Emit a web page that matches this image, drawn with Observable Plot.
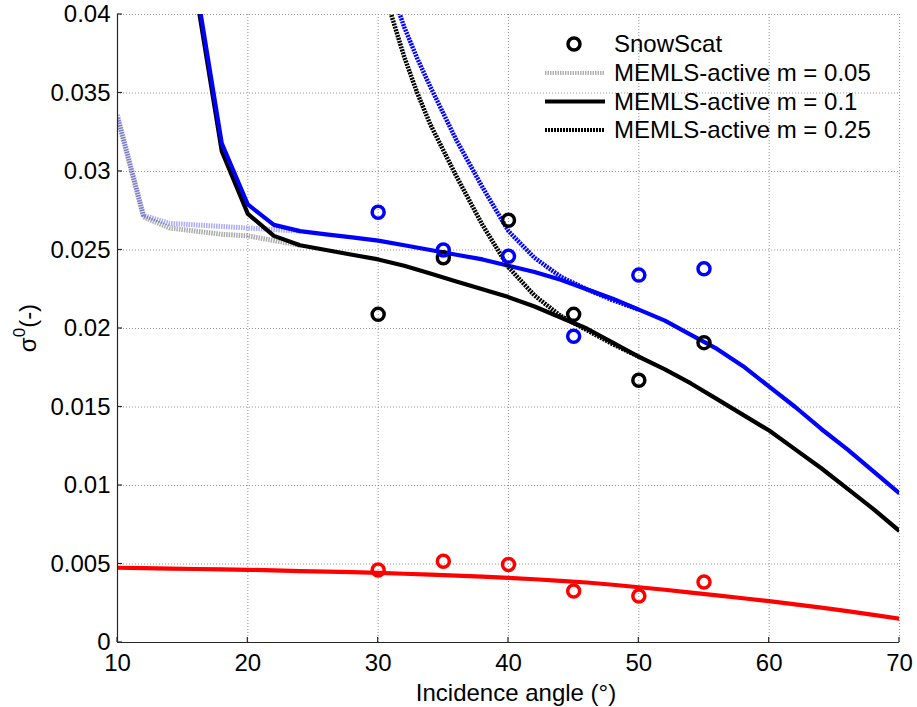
<!DOCTYPE html>
<html><head><meta charset="utf-8">
<script src="https://cdn.jsdelivr.net/npm/d3@7"></script>
<script src="https://cdn.jsdelivr.net/npm/@observablehq/plot@0.6"></script>
<style>body{margin:0;background:#fff}</style>
</head><body><div id="chart"></div>
<script>
// ---------- data ----------
const xTicks = [10, 20, 30, 40, 50, 60, 70];
const xTickLabels = ["10", "20", "30", "40", "50", "60", "70"];
const yTicks = [0, 0.005, 0.01, 0.015, 0.02, 0.025, 0.03, 0.035, 0.04];
const yTickLabels = ["0", "0.005", "0.01", "0.015", "0.02", "0.025", "0.03", "0.035", "0.04"];

// SnowScat observations
const obsAngles = [30, 35, 40, 45, 50, 55];
const obsBlack = [0.0209, 0.0245, 0.0269, 0.0209, 0.0167, 0.0191];
const obsBlue  = [0.0274, 0.0250, 0.0246, 0.0195, 0.0234, 0.0238];
const obsRed   = [0.00462, 0.00517, 0.00497, 0.00328, 0.00296, 0.00385];

// MEMLS-active m = 0.1 (solid)
const anglesM01 = [16, 18, 20, 22, 24, 26, 28, 30, 32, 34, 36, 38, 40, 42, 44, 46, 48, 50, 52, 54, 56, 58, 60, 62, 64, 66, 68, 70];
const blueM01  = [0.0420, 0.0318, 0.0279, 0.0266, 0.0262, 0.0260, 0.0258, 0.0256, 0.0253, 0.0250, 0.0247, 0.0244, 0.0240, 0.0236, 0.0231, 0.0225, 0.0219, 0.0212, 0.0205, 0.0196, 0.0187, 0.0176, 0.0163, 0.0150, 0.0136, 0.0123, 0.0109, 0.0095];
const blackM01 = [0.0415, 0.0313, 0.0273, 0.0259, 0.0253, 0.0250, 0.0247, 0.0244, 0.0240, 0.0235, 0.0230, 0.0225, 0.0220, 0.0214, 0.0207, 0.0200, 0.0191, 0.0182, 0.0174, 0.0165, 0.0155, 0.0145, 0.0135, 0.0123, 0.0111, 0.0098, 0.0085, 0.0071];

// MEMLS-active m = 0.05 (light)
const anglesM005 = [10, 12, 14, 16, 18, 20, 22, 24];
const blueM005  = [0.0336, 0.0272, 0.0267, 0.0266, 0.0265, 0.0264, 0.0263, 0.0262];
const blackM005 = [0.0334, 0.0271, 0.0264, 0.0262, 0.0260, 0.0259, 0.0256, 0.0253];

// MEMLS-active m = 0.25 (dotted)
const anglesM025 = [30, 31, 32, 33, 34, 36, 38, 40, 42, 44, 46, 48, 50];
const blueM025  = [0.0445, 0.0416, 0.0392, 0.0372, 0.0354, 0.0320, 0.0290, 0.0262, 0.0245, 0.0233, 0.0225, 0.0218, 0.0212];
const blackM025 = [0.0435, 0.0400, 0.0373, 0.0350, 0.0330, 0.0297, 0.0266, 0.0239, 0.0221, 0.0208, 0.0199, 0.0190, 0.0182];

// Red (cross-pol) m = 0.1
const anglesRed = [10, 12, 14, 16, 18, 20, 22, 24, 26, 28, 30, 32, 34, 36, 38, 40, 42, 44, 46, 48, 50, 52, 54, 56, 58, 60, 62, 64, 66, 68, 70];
const redM01 = [0.00476, 0.00474, 0.00471, 0.00468, 0.00466, 0.00463, 0.00459, 0.00455, 0.00451, 0.00448, 0.00444, 0.00438, 0.00432, 0.00426, 0.00419, 0.00412, 0.00403, 0.00393, 0.00382, 0.00368, 0.00352, 0.00336, 0.00318, 0.00300, 0.00282, 0.00263, 0.00243, 0.00222, 0.00200, 0.00176, 0.00151];

const legendLabels = ["SnowScat", "MEMLS-active m = 0.05", "MEMLS-active m = 0.1", "MEMLS-active m = 0.25"];
const xLabel = "Incidence angle (°)";

// ---------- build ----------
const W = 917, H = 707, ML = 117, MR = 18, MT = 14, MB = 65;
const FONT = "'Liberation Sans', Arial, Helvetica, sans-serif";
const pts = (xs, ys) => xs.map((x, i) => ({x, y: ys[i]}));
const fmtX = d => xTickLabels[xTicks.indexOf(d)];
const fmtY = d => yTickLabels[yTicks.indexOf(d)];

const light = {strokeWidth: 5, strokeOpacity: 0.33, strokeDasharray: "1.5,1", strokeLinecap: "butt", strokeLinejoin: "round", clip: true};
const solid = {strokeWidth: 4.2, strokeLinecap: "butt", strokeLinejoin: "round", clip: true};
const dotted = {strokeWidth: 4.5, strokeDasharray: "2,1", strokeLinecap: "butt", strokeLinejoin: "round", clip: true};
const dotOpt = {r: 6, strokeWidth: 3.5, fill: "none"};

const chart = Plot.plot({
  width: W, height: H,
  marginLeft: ML, marginRight: MR, marginTop: MT, marginBottom: MB,
  x: {domain: [xTicks[0], xTicks[xTicks.length - 1]]},
  y: {domain: [yTicks[0], yTicks[yTicks.length - 1]]},
  style: {fontFamily: FONT, fontSize: "24px", background: "#fff", color: "#000"},
  marks: [
    Plot.gridX(xTicks, {stroke: "#8c8c8c", strokeOpacity: 0.9, strokeDasharray: "1,2"}),
    Plot.gridY(yTicks, {stroke: "#8c8c8c", strokeOpacity: 0.9, strokeDasharray: "1,2"}),
    Plot.line(pts(anglesM005, blackM005), {x: "x", y: "y", stroke: "#000", ...light}),
    Plot.line(pts(anglesM005, blueM005), {x: "x", y: "y", stroke: "#0000ff", ...light}),
    Plot.line(pts(anglesRed, redM01), {x: "x", y: "y", stroke: "#ff0000", ...solid}),
    Plot.line(pts(anglesM01, blackM01), {x: "x", y: "y", stroke: "#000", ...solid}),
    Plot.line(pts(anglesM01, blueM01), {x: "x", y: "y", stroke: "#0000ff", ...solid}),
    Plot.line(pts(anglesM025, blackM025), {x: "x", y: "y", stroke: "#000", ...dotted}),
    Plot.line(pts(anglesM025, blueM025), {x: "x", y: "y", stroke: "#0000ff", ...dotted}),
    Plot.dot(pts(obsAngles, obsBlack), {x: "x", y: "y", stroke: "#000", ...dotOpt}),
    Plot.dot(pts(obsAngles, obsBlue), {x: "x", y: "y", stroke: "#0000ff", ...dotOpt}),
    Plot.dot(pts(obsAngles, obsRed), {x: "x", y: "y", stroke: "#ff0000", ...dotOpt}),
    Plot.ruleX([xTicks[0]], {stroke: "#262626", strokeWidth: 1.2}),
    Plot.ruleY([yTicks[0]], {stroke: "#262626", strokeWidth: 1.2}),
    Plot.axisX(xTicks, {tickSize: 0, tickPadding: 11, tickFormat: fmtX, label: null, fontSize: 24}),
    Plot.axisY(yTicks, {tickSize: 0, tickPadding: 7, tickFormat: fmtY, label: null, fontSize: 24})
  ]
});

document.getElementById("chart").appendChild(chart);

const svg = d3.select(chart);
const sx = chart.scale("x"), sy = chart.scale("y");
const x0 = sx.apply(xTicks[0]), y0 = sy.apply(yTicks[0]);

// inward ticks
const tg = svg.append("g").attr("stroke", "#262626").attr("stroke-width", 1.2);
xTicks.forEach(t => tg.append("line").attr("x1", sx.apply(t)).attr("x2", sx.apply(t)).attr("y1", y0).attr("y2", y0 - 5));
yTicks.forEach(t => tg.append("line").attr("x1", x0).attr("x2", x0 + 5).attr("y1", sy.apply(t)).attr("y2", sy.apply(t)));

// x label
svg.append("text").attr("x", 516).attr("y", 701).attr("text-anchor", "middle")
  .attr("font-family", FONT).attr("font-size", 24).attr("fill", "#000").text(xLabel);

// y label: sigma^0 (-)
const yl = svg.append("text").attr("transform", "translate(36,328) rotate(-90)")
  .attr("text-anchor", "middle").attr("font-family", FONT).attr("font-size", 24).attr("fill", "#000");
yl.append("tspan").text("σ");
yl.append("tspan").attr("dy", -11).attr("font-size", 17).text("0");
yl.append("tspan").attr("dy", 11).text("(-)");

// legend
const rows = [44, 73, 101.5, 130];
const lg = svg.append("g").attr("font-family", FONT).attr("font-size", 24).attr("text-anchor", "start");
lg.append("circle").attr("cx", 574).attr("cy", rows[0]).attr("r", 6)
  .attr("fill", "none").attr("stroke", "#000").attr("stroke-width", 3.5);
lg.append("line").attr("x1", 545).attr("x2", 605).attr("y1", rows[1]).attr("y2", rows[1])
  .attr("stroke", "#000").attr("stroke-opacity", 0.3).attr("stroke-width", 4).attr("stroke-dasharray", "1.5,1");
lg.append("line").attr("x1", 545).attr("x2", 605).attr("y1", rows[2]).attr("y2", rows[2])
  .attr("stroke", "#000").attr("stroke-width", 4);
lg.append("line").attr("x1", 545).attr("x2", 605).attr("y1", rows[3]).attr("y2", rows[3])
  .attr("stroke", "#000").attr("stroke-width", 4).attr("stroke-dasharray", "2,1");
legendLabels.forEach((t, i) => lg.append("text").attr("x", 614).attr("y", rows[i]).attr("dy", "0.35em")
  .attr("text-anchor", "start").attr("fill", "#000").text(t));
</script>
</body></html>
